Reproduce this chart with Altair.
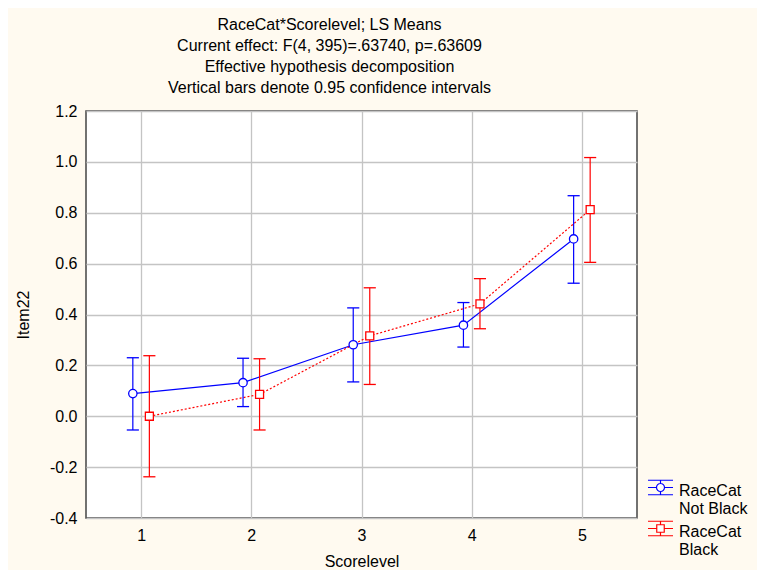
import altair as alt
import pandas as pd

# ---- data ----
score = [1, 2, 3, 4, 5]
groups = ["Not Black", "Black"]
notblack_mean = [0.089, 0.132, 0.281, 0.358, 0.697]
notblack_lo = [-0.054, 0.038, 0.135, 0.272, 0.523]
notblack_hi = [0.230, 0.228, 0.426, 0.447, 0.867]
black_mean = [0.000, 0.086, 0.316, 0.442, 0.812]
black_lo = [-0.238, -0.054, 0.125, 0.344, 0.605]
black_hi = [0.238, 0.226, 0.505, 0.541, 1.017]
title_lines = [
    "RaceCat*Scorelevel; LS Means",
    "Current effect: F(4, 395)=.63740, p=.63609",
    "Effective hypothesis decomposition",
    "Vertical bars denote 0.95 confidence intervals",
]

rows = []
for g, m, lo, hi in [("Not Black", notblack_mean, notblack_lo, notblack_hi),
                     ("Black", black_mean, black_lo, black_hi)]:
    for s, a, b, c in zip(score, m, lo, hi):
        rows.append({"Scorelevel": s, "RaceCat": g, "mean": a, "lo": b, "hi": c})
df = pd.DataFrame(rows)

FONT = "Liberation Sans"
FS = 16
BLUE = "#0000FF"
RED = "#FF0000"
OFFSET = 0.075   # horizontal dodge of the two series
CAP = 0.055      # half-width of the error-bar caps

# legend glyphs: error bar with caps, series line and marker (drawn slightly above centre)
circ_path = ("M-1,-0.82H1M-1,0.34H1M0,-0.82V-0.56M0,0.08V0.34M-1,-0.24H-0.32M0.32,-0.24H1"
             "M0.32,-0.24A0.32,0.32 0 1,1 -0.32,-0.24A0.32,0.32 0 1,1 0.32,-0.24Z")
sq_path = ("M-1,-0.82H1M-1,0.34H1M0,-0.82V-0.54M0,0.06V0.34M-1,-0.24H-0.3M0.3,-0.24H1"
           "M-0.3,-0.54H0.3V0.06H-0.3Z")

legend = alt.Legend(
    title=None, orient="none", legendX=561, legendY=366,
    labelFont=FONT, labelFontSize=FS, labelColor="black",
    labelExpr="['RaceCat', datum.label]", labelOffset=5,
    symbolSize=625, symbolStrokeWidth=1.2, symbolOpacity=1, symbolFillColor="white",
    rowPadding=1, padding=0,
)

cscale = alt.Scale(domain=groups, range=[BLUE, RED])
color = alt.Color("RaceCat:N", scale=cscale, legend=legend)

base = alt.Chart(df).transform_calculate(
    xpos=f"datum.Scorelevel + (datum.RaceCat == 'Black' ? {OFFSET} : -{OFFSET})"
).transform_calculate(
    xl=f"datum.xpos - {CAP}", xr=f"datum.xpos + {CAP}"
)

xscale = alt.Scale(domain=[0.5, 5.5], nice=False, zero=False)
x_axis = alt.Axis(values=score, format="d", title="Scorelevel", ticks=False,
                  labelPadding=9, titlePadding=10, domain=False)
x = alt.X("xpos:Q", scale=xscale, axis=x_axis)
y_axis = alt.Axis(values=[-0.4, -0.2, 0.0, 0.2, 0.4, 0.6, 0.8, 1.0, 1.2], title="Item22",
                  labelExpr="(datum.value < 0 ? '-' : '') + format(abs(datum.value), '.1f')",
                  ticks=False, labelPadding=9, titlePadding=18, domain=False)
yscale = alt.Scale(domain=[-0.4, 1.2], nice=False, zero=False)
ymean = alt.Y("mean:Q", scale=yscale, axis=y_axis)

nb = base.transform_filter("datum.RaceCat == 'Not Black'")
bl = base.transform_filter("datum.RaceCat == 'Black'")

# invisible layer whose shape scale gives the legend its error-bar symbols
leg_layer = base.mark_point(filled=False, fill="white", opacity=0).encode(
    x=x, y=ymean, color=color,
    shape=alt.Shape("RaceCat:N", scale=alt.Scale(domain=groups, range=[circ_path, sq_path]), legend=legend),
)

line_nb = nb.mark_line(strokeWidth=1.2).encode(x=x, y=ymean, color=color)
line_b = bl.mark_line(strokeWidth=1.2, strokeDash=[2, 2]).encode(x=x, y=ymean, color=color)

bars = base.mark_rule(strokeWidth=1.2).encode(
    x=x, y=alt.Y("lo:Q", scale=yscale, axis=y_axis), y2="hi:Q", color=color)
cap_lo = base.mark_rule(strokeWidth=1.3).encode(
    x=alt.X("xl:Q", scale=xscale, axis=x_axis), x2="xr:Q",
    y=alt.Y("lo:Q", scale=yscale, axis=y_axis), color=color)
cap_hi = base.mark_rule(strokeWidth=1.3).encode(
    x=alt.X("xl:Q", scale=xscale, axis=x_axis), x2="xr:Q",
    y=alt.Y("hi:Q", scale=yscale, axis=y_axis), color=color)

pts_nb = nb.mark_point(shape="circle", filled=False, fill="white", fillOpacity=1,
                       strokeWidth=1.3, size=70, opacity=1).encode(x=x, y=ymean, color=color)
pts_b = bl.mark_point(shape="square", filled=False, fill="white", fillOpacity=1,
                      strokeWidth=1.3, size=64, opacity=1).encode(x=x, y=ymean, color=color)

chart = alt.layer(leg_layer, line_nb, line_b, bars, cap_lo, cap_hi, pts_nb, pts_b).properties(
    width=551, height=407,
    autosize=alt.AutoSizeParams(type="none"),
    padding={"left": 78, "top": 103, "right": 120, "bottom": 52},
    background="#FFFAF0",
    title=alt.TitleParams(text=title_lines, font=FONT, fontSize=FS, fontWeight="normal",
                          color="black", lineHeight=21, anchor="middle", dx=-32, offset=7),
).configure_view(
    stroke="#444444", strokeWidth=1.5, fill="white"
).configure_axis(
    gridColor="#C4C4C4", gridWidth=1.3, gridOpacity=1,
    labelFont=FONT, labelFontSize=FS, labelColor="black",
    titleFont=FONT, titleFontSize=FS, titleFontWeight="normal", titleColor="black",
)

chart.save("out.html", embed_options={"renderer": "svg", "actions": False})
